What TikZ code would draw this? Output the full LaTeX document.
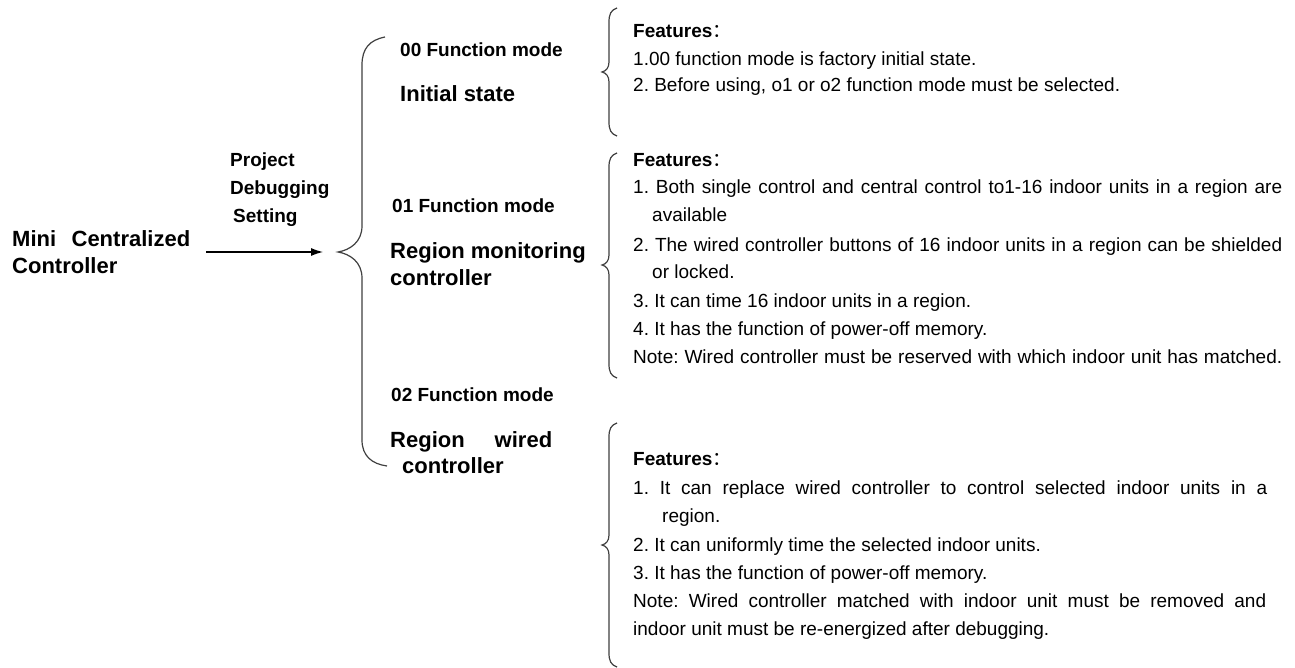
\documentclass[tikz,border=0pt]{standalone}
\usepackage{fontspec}
\setmainfont{Liberation Sans}
\newfontfamily\cjk{Noto Sans CJK SC}
\usetikzlibrary{arrows.meta}
\frenchspacing
\newcommand{\featbrace}[3]{%
  \draw[brace] (617,#1) .. controls (611,#1+2) and (609,#1+6) .. (609,#1+14)
    -- (609,#2-10) .. controls (609,#2-4) and (606,#2-1) .. (602,#2)
    .. controls (606,#2+1) and (609,#2+4) .. (609,#2+10)
    -- (609,#3-14) .. controls (609,#3-6) and (611,#3-2) .. (617,#3);}
\newcommand{\feat}{Features{\cjk\mdseries ：}}
\begin{document}
\frenchspacing
\begin{tikzpicture}[x=1pt,y=-1pt,
  body/.style={anchor=base west, inner sep=0pt, font=\fontsize{19}{23}\selectfont\frenchspacing},
  bodyb/.style={anchor=base west, inner sep=0pt, font=\fontsize{19}{23}\selectfont\bfseries\frenchspacing},
  big/.style={anchor=base west, inner sep=0pt, font=\fontsize{22}{26}\selectfont\bfseries\frenchspacing},
  brace/.style={draw=black!75, line width=1.2pt},
  arr/.style={-{Latex[length=12pt,width=8pt]}, line width=1.1pt}]
\fill[white] (0,0) rectangle (1295,668);
\useasboundingbox (0,0) rectangle (1295,668);

% left side
\node[big] (mini1) at (12,247) {\makebox[178pt][s]{Mini Centralized}};
\node[big] (mini2) at (12,273) {Controller};
\node[bodyb] (proj) at (230,167) {Project};
\node[bodyb] (debug) at (230,195) {Debugging};
\node[bodyb] (sett) at (233,223) {Setting};
\coordinate (astart) at (206,252);
\coordinate (btip) at (338,252);
\coordinate (aend) at (323,252);
\draw[arr] (astart) -- (aend);

% big brace
\draw[brace] (385,37) .. controls (370,40) and (362,48) .. (362,65)
  -- (362,226) .. controls (362,242) and (350,250) .. (btip)
  .. controls (350,254) and (362,262) .. (362,278)
  -- (362,440) .. controls (362,456) and (372,464) .. (387,466);

% modes
\node[bodyb] (m00) at (400,57) {00 Function mode};
\node[big] (m00b) at (400,102) {Initial state};
\node[bodyb] (m01) at (392,213) {01 Function mode};
\node[big] (m01b) at (390,259) {Region monitoring};
\node[big] (m01c) at (390,286) {controller};
\node[bodyb] (m02) at (391,401) {02 Function mode};
\node[big] (m02b) at (390,447) {\makebox[162pt][s]{Region wired}};
\node[big] (m02c) at (402,473) {controller};

% feature braces
\featbrace{8}{72}{136}
\featbrace{153}{265}{378}
\featbrace{423}{545}{667}

% features 00
\node[bodyb] (f0) at (633,38) {\feat};
\node[body] (f01) at (633,66) {1.00 function mode is factory initial state.};
\node[body] (f02) at (633,92) {2. Before using, o1 or o2 function mode must be selected.};

% features 01
\node[bodyb] (f1) at (633,167) {\feat};
\node[body] (f11) at (633,194) {\makebox[649pt][s]{1. Both single control and central control to1-16 indoor units in a region are}};
\node[body] (f11b) at (652,222) {available};
\node[body] (f12) at (633,252) {\makebox[649pt][s]{2. The wired controller buttons of 16 indoor units in a region can be shielded}};
\node[body] (f12b) at (652,278) {or locked.};
\node[body] (f13) at (633,307) {3. It can time 16 indoor units in a region.};
\node[body] (f14) at (633,335) {4. It has the function of power-off memory.};
\node[body] (f15) at (633,363) {\makebox[649pt][s]{Note: Wired controller must be reserved with which indoor unit has matched.}};

% features 02
\node[bodyb] (f2) at (633,465) {\feat};
\node[body] (f21) at (633,494) {\makebox[634pt][s]{1. It can replace wired controller to control selected indoor units in a}};
\node[body] (f21b) at (662,522) {region.};
\node[body] (f22) at (633,551) {2. It can uniformly time the selected indoor units.};
\node[body] (f23) at (633,579) {3. It has the function of power-off memory.};
\node[body] (f24) at (633,607) {\makebox[633pt][s]{Note: Wired controller matched with indoor unit must be removed and}};
\node[body] (f25) at (633,635) {indoor unit must be re-energized after debugging.};
\end{tikzpicture}
\end{document}
